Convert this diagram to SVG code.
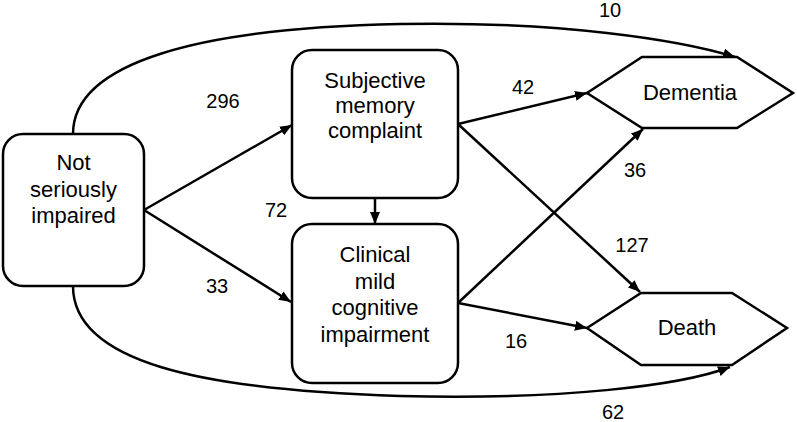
<svg xmlns="http://www.w3.org/2000/svg" width="797" height="422" viewBox="0 0 797 422">
<style>
.node{fill:#fff;stroke:#000;stroke-width:2.5}
.lbl{font-family:"Liberation Sans",Arial,sans-serif;font-size:22px;text-anchor:middle;fill:#000}
.num{font-family:"Liberation Sans",Arial,sans-serif;font-size:20px;text-anchor:middle;fill:#000}
.edge{fill:none;stroke:#000;stroke-width:2.5;marker-end:url(#arr)}
</style>
<defs>
<marker id="arr" viewBox="0 0 12 10" refX="12" refY="5" markerWidth="12" markerHeight="10" markerUnits="userSpaceOnUse" orient="auto">
<path d="M0,0 L12,5 L0,10 Z" fill="#000"/>
</marker>
</defs>
<rect width="797" height="422" fill="#fff"/>
<g id="connectors">
<path class="edge" d="M73,134 C73,62 200,28 400,24 C560,21 680,40 735,57"/>
<path class="edge" d="M73,286 C73,362 200,390 400,396 C560,400 680,386 730,367"/>
<path class="edge" d="M144,210 L292,125"/>
<path class="edge" d="M144,210 L291,302"/>
<path class="edge" d="M375,198 L375,224"/>
<path class="edge" d="M458,124 L587,93"/>
<path class="edge" d="M458,124 L640,292"/>
<path class="edge" d="M458,303 L643,129"/>
<path class="edge" d="M458,303 L587,328"/>
</g>
<g id="not-impaired">
<rect class="node" x="3" y="134" width="141" height="152" rx="20"/>
<text class="lbl" x="73.5" y="170">Not</text>
<text class="lbl" x="73.5" y="196.5">seriously</text>
<text class="lbl" x="73.5" y="223">impaired</text>
</g>
<g id="subjective">
<rect class="node" x="292" y="50" width="166" height="148" rx="20"/>
<text class="lbl" x="375" y="88">Subjective</text>
<text class="lbl" x="375" y="113">memory</text>
<text class="lbl" x="375" y="138">complaint</text>
</g>
<g id="clinical">
<rect class="node" x="292" y="224" width="166" height="159" rx="20"/>
<text class="lbl" x="375" y="262">Clinical</text>
<text class="lbl" x="375" y="288.5">mild</text>
<text class="lbl" x="375" y="315">cognitive</text>
<text class="lbl" x="375" y="341.5">impairment</text>
</g>
<g id="dementia">
<polygon class="node" points="587,93 642,57 737,57 793,93 737,128 642,128"/>
<text class="lbl" x="690" y="99.5">Dementia</text>
</g>
<g id="death">
<polygon class="node" points="587,328 641,293 732,293 787,328 732,365 641,365"/>
<text class="lbl" x="687" y="335">Death</text>
</g>
<g id="labels">
<text class="num" x="610" y="17">10</text>
<text class="num" x="223" y="108">296</text>
<text class="num" x="523" y="94">42</text>
<text class="num" x="635" y="177">36</text>
<text class="num" x="276" y="217">72</text>
<text class="num" x="217" y="293">33</text>
<text class="num" x="632" y="252">127</text>
<text class="num" x="516" y="348">16</text>
<text class="num" x="613" y="419">62</text>
</g>
</svg>
